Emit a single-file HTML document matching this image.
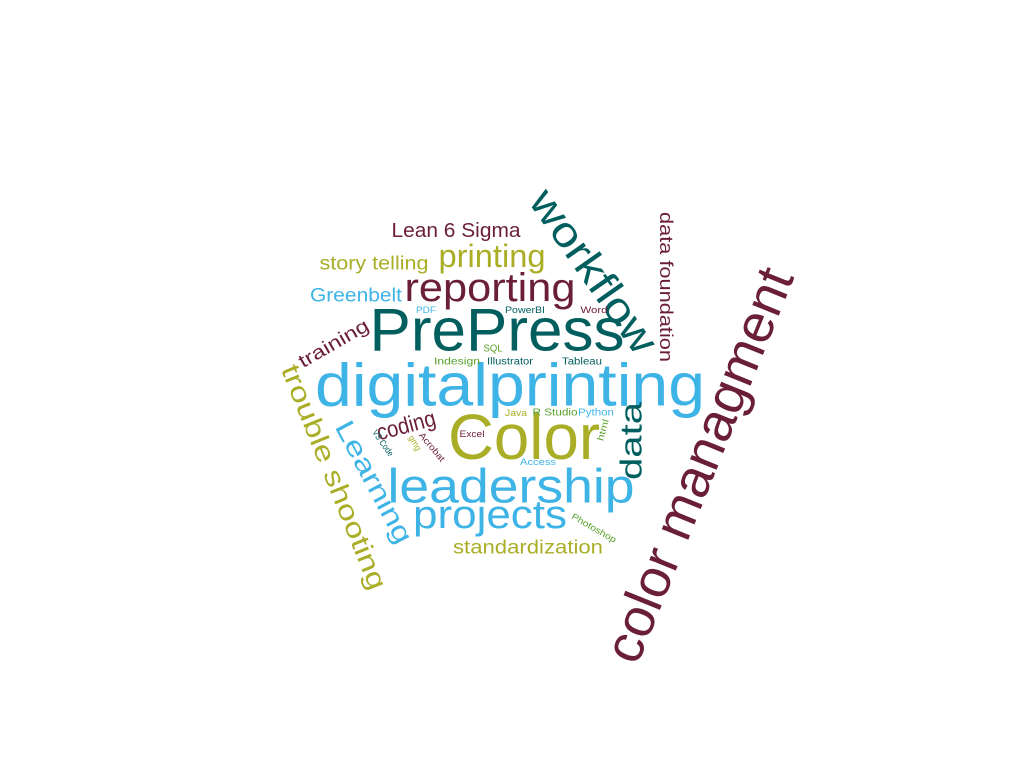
<!DOCTYPE html>
<html><head><meta charset="utf-8"><style>
html,body{margin:0;padding:0;background:#fff;width:1024px;height:768px;overflow:hidden}
svg text{font-family:"Liberation Sans",sans-serif;}
</style></head><body>
<svg id="cloud" width="1024" height="768" viewBox="0 0 1024 768"></svg>
<script>
const words=["digitalprinting","PrePress","Color","leadership","projects","reporting","workflow","color managment","data foundation","Lean 6 Sigma","printing","story telling","Greenbelt","training","trouble shooting","Learning","coding","data","standardization","PDF","PowerBI","Word","SQL","Indesign","Illustrator","Tableau","Java","R Studio","Python","Excel","Access","html","Photoshop","VS Code","gmg","Acrobat"];
const sizes=[60,60,64,48,40,40,42,54,18,20,32,19,19,19,27,27,23,31,19,9,9,9,10,10,10,10,9,10,10,9,9,9,9,9,9,9];
const colorsIdx=[1,0,2,1,1,3,0,3,3,3,2,2,1,3,2,1,3,0,2,1,0,3,4,4,0,0,2,4,1,3,1,4,4,0,2,3];
const palette=["#015e5e","#3eb4e6","#a9ae26","#6a1e3a","#58a12b"];
const cx=[510,497,524,511,490,490,594,699,666,456,492,374,356,334,334,374,406,631,528,426,525,594,493,457,510,582,516,555,596,472,538,603,594,383,415,432];
const cy=[385,330,437,487,515,288,271,465,287,231,256,264,296,344,477,482,425,441,548,310,310,310,349,362,362,362,413,413,413,434,462,430,528,443,443,447];
const lens=[390,255,152,247,154,171,190,420,150,129,107,109,92,78,240,135,60,78,150,20,40,27,19,46,46,40,22,45,36,25,36,22,50,30,16,35];
const rots=[0,0,0,0,0,0,55,-68,90,0,0,0,0,-30,68,62,-15,-90,0,0,0,0,0,0,0,0,0,0,0,0,0,-75,30,55,60,50];
const svg=document.getElementById('cloud');
const NS='http://www.w3.org/2000/svg';
for(let i=0;i<words.length;i++){
  const t=document.createElementNS(NS,'text');
  
  
  t.setAttribute('text-anchor','middle');
  t.setAttribute('dominant-baseline','central');
  t.setAttribute('font-size',sizes[i]);
  t.setAttribute('fill',palette[colorsIdx[i]]);
  t.setAttribute('textLength',lens[i]);
  t.setAttribute('lengthAdjust','spacingAndGlyphs');
  t.setAttribute('x',0);t.setAttribute('y',0);
  t.setAttribute('transform','translate('+cx[i]+','+cy[i]+') rotate('+rots[i]+')');
  t.textContent=words[i];
  svg.appendChild(t);
}
</script>
</body></html>
